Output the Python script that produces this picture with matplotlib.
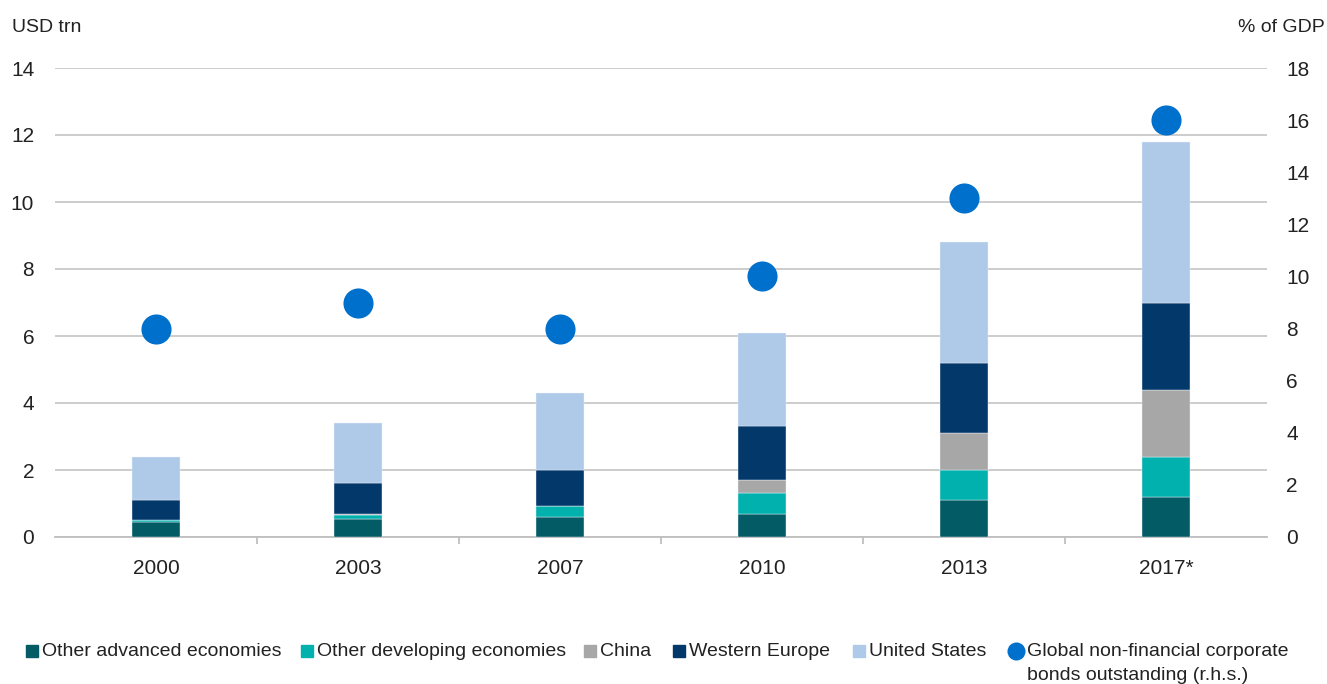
import matplotlib
matplotlib.use("Agg")
import matplotlib.pyplot as plt
import numpy as np
from matplotlib.lines import Line2D
from matplotlib.patches import Rectangle

plt.rcParams['font.family'] = ['Liberation Sans', 'DejaVu Sans']

years = ["2000", "2003", "2007", "2010", "2013", "2017*"]
other_advanced = [0.45, 0.55, 0.60, 0.70, 1.10, 1.20]
other_developing = [0.05, 0.12, 0.32, 0.60, 0.90, 1.20]
china = [0.00, 0.03, 0.02, 0.40, 1.10, 2.00]
western_europe = [0.60, 0.90, 1.06, 1.60, 2.10, 2.60]
united_states = [1.30, 1.80, 2.30, 2.80, 3.60, 4.80]
global_pct_gdp = [8, 9, 8, 10, 13, 16]

series_names = ["Other advanced economies", "Other developing economies", "China",
                "Western Europe", "United States"]
series_vals = [other_advanced, other_developing, china, western_europe, united_states]
colors = ["#035B66", "#00B1AD", "#A7A7A7", "#03386A", "#AFC9E9"]
dot_color = "#0070CD"
dot_label = "Global non-financial corporate\nbonds outstanding (r.h.s.)"

W, H = 1327, 684
fig = plt.figure(figsize=(W / 100, H / 100), dpi=100)
ax = fig.add_axes([55 / W, 1 - 537 / H, (1267 - 55) / W, (537 - 68) / H])
ax2 = ax.twinx()

x = np.arange(len(years))
bottom = np.zeros(len(years))
for vals, c in zip(series_vals, colors):
    ax.bar(x, vals, width=0.24, bottom=bottom, color=c, edgecolor="#EEF3F8",
           linewidth=0.3, zorder=3)
    bottom += np.array(vals)

ax2.scatter(x, global_pct_gdp, s=470, color=dot_color, zorder=4, linewidths=0)

ax.set_xlim(-0.5, len(years) - 0.5)
ax.set_ylim(0, 14)
ax.set_yticks(range(0, 15, 2))
ax2.set_ylim(0, 18)
ax2.set_yticks(range(0, 19, 2))

fs = 15
txt_c = "#222222"
grid_c = "#BFBFBF"
ax.yaxis.grid(True, color=grid_c, linewidth=1.1, zorder=0)
ax.set_axisbelow(True)
for a in (ax, ax2):
    for s in ("top", "left", "right", "bottom"):
        a.spines[s].set_visible(False)
ax.spines["bottom"].set_visible(True)
ax.spines["bottom"].set_color(grid_c)
ax.spines["bottom"].set_linewidth(1.3)

ax.set_xticks(x)
ax.set_xticklabels(years, fontsize=fs, color=txt_c)
ax.set_xticks(np.arange(0.5, len(years) - 1, 1), minor=True)
ax.tick_params(axis="x", which="major", length=0, pad=16)
ax.tick_params(axis="x", which="minor", length=5, width=1.3, color=grid_c)
ax.tick_params(axis="y", length=0, pad=15, labelsize=fs, labelcolor=txt_c)
ax2.tick_params(axis="y", length=0, pad=14, labelsize=fs, labelcolor=txt_c)

fs2 = 14
fig.text(12 / W, 1 - 27 / H, "USD trn", fontsize=fs2, ha="left", va="center", color=txt_c)
fig.text(1325 / W, 1 - 27 / H, "% of GDP", fontsize=fs2, ha="right", va="center", color=txt_c)

# legend
ly = 1 - 651 / H
sq_x = [26, 301, 584, 673, 853]
for name, c, sx in zip(series_names, colors, sq_x):
    fig.add_artist(Rectangle((sx / W, ly - 6 / H), 12 / W, 12 / H, color=c,
                             transform=fig.transFigure))
    fig.text((sx + 16) / W, ly, name, fontsize=fs2, ha="left", va="center", color=txt_c)
fig.add_artist(Line2D([1016 / W], [ly], marker="o", markersize=13, color=dot_color,
                      linestyle="none", markeredgewidth=0, transform=fig.transFigure))
for i, line in enumerate(dot_label.split("\n")):
    fig.text(1027 / W, ly - i * 24 / H, line, fontsize=fs2, ha="left", va="center",
             color=txt_c)

fig.savefig("out.png", dpi=100)
